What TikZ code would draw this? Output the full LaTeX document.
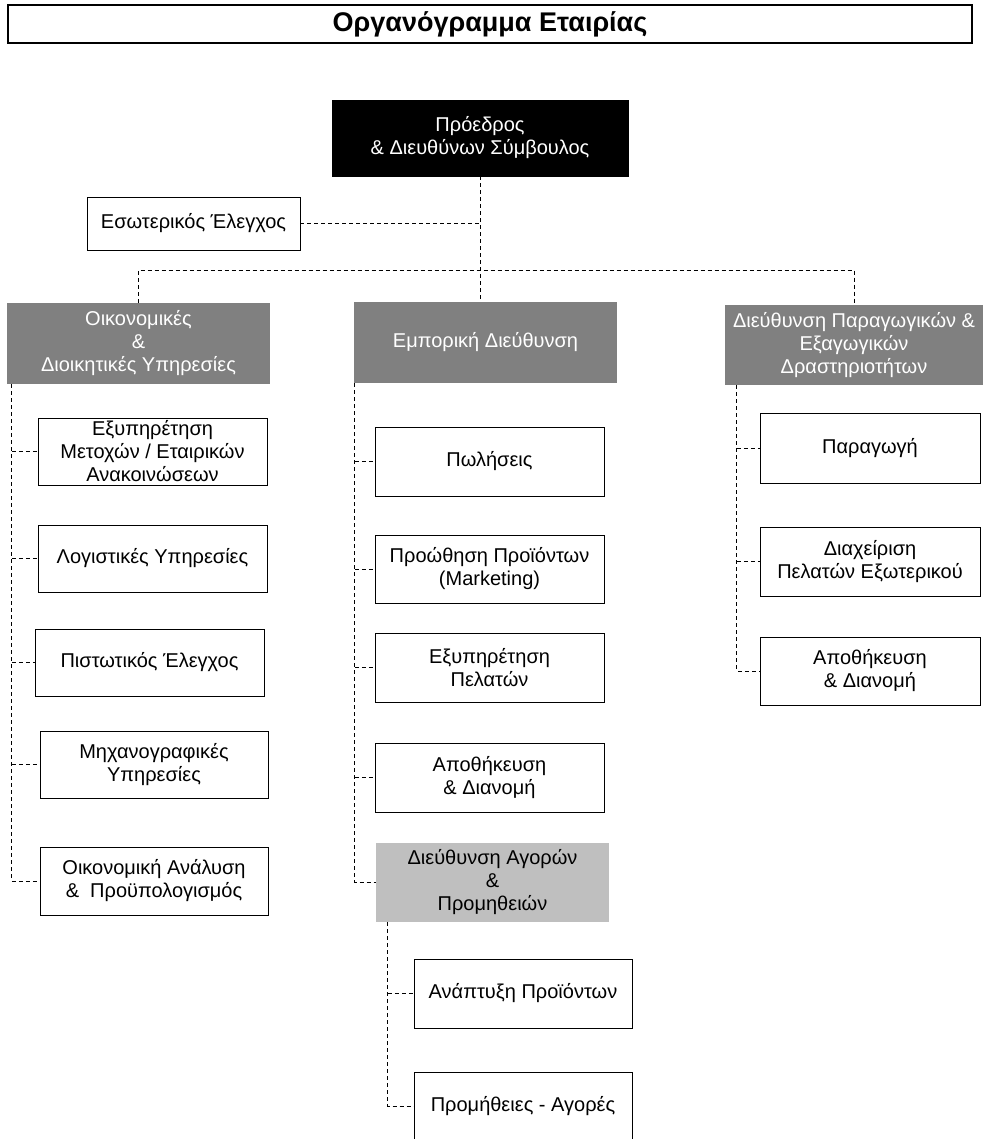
\documentclass[tikz,border=0pt]{standalone}
\usepackage{fontspec}
\setmainfont{Liberation Sans}
\usetikzlibrary{positioning}

\tikzset{
    unit/.style={draw, thin, fill=white, align=center, inner sep=2pt,
        font=\fontsize{20}{23}\selectfont},
    darkunit/.style={unit, draw=none, fill=black!50, text=white},
    lightunit/.style={unit, draw=none, fill=black!25},
    link/.style={draw, line width=0.7pt, dash pattern=on 4pt off 3pt}
}

\begin{document}
\begin{tikzpicture}[x=1pt, y=-1pt]
            \clip (0, 0) rectangle (984, 1139);

            \node[draw, line width=1.2pt, minimum width=964pt, minimum height=38pt,
                font=\fontsize{27}{30}\selectfont\bfseries] (title) at (490, 24) {Οργανόγραμμα Εταιρίας};

            \node[unit, fill=black, text=white, minimum width=296pt, minimum height=76pt] (pres) at (480, 138) {Πρόεδρος\\ \& Διευθύνων Σύμβουλος};
            \node[unit, minimum width=213pt, minimum height=53pt] (audit) at (193.5, 223.5) {Εσωτερικός Έλεγχος};

            \node[darkunit, minimum width=263pt, minimum height=81pt] (fin) at (138.5, 343.5) {Οικονομικές\\ \&\\ Διοικητικές Υπηρεσίες};
            \node[darkunit, minimum width=263pt, minimum height=81pt] (com) at (485.5, 342.5) {Εμπορική Διεύθυνση};
            \node[darkunit, minimum width=258pt, minimum height=80pt] (prod) at (854, 345) {Διεύθυνση Παραγωγικών \&\\ Εξαγωγικών\\ Δραστηριοτήτων};

            \node[unit, minimum width=229pt, minimum height=67pt] (fin1) at (152.5, 451.5) {Εξυπηρέτηση\\ Μετοχών / Εταιρικών\\ Ανακοινώσεων};
            \node[unit, minimum width=229pt, minimum height=67pt] (fin2) at (152.5, 558.5) {Λογιστικές Υπηρεσίες};
            \node[unit, minimum width=229pt, minimum height=67pt] (fin3) at (149.5, 662.5) {Πιστωτικός Έλεγχος};
            \node[unit, minimum width=228pt, minimum height=67pt] (fin4) at (154, 764.5) {Μηχανογραφικές\\ Υπηρεσίες};
            \node[unit, minimum width=228pt, minimum height=68pt] (fin5) at (154, 881) {Οικονομική Ανάλυση\\ \&\ \ Προϋπολογισμός};

            \node[unit, minimum width=229pt, minimum height=69pt] (com1) at (489.5, 461.5) {Πωλήσεις};
            \node[unit, minimum width=229pt, minimum height=68pt] (com2) at (489.5, 569) {Προώθηση Προϊόντων\\ (Marketing)};
            \node[unit, minimum width=229pt, minimum height=69pt] (com3) at (489.5, 667.5) {Εξυπηρέτηση\\ Πελατών};
            \node[unit, minimum width=229pt, minimum height=69pt] (com4) at (489.5, 777.5) {Αποθήκευση\\ \& Διανομή};
            \node[lightunit, minimum width=233pt, minimum height=79pt] (buy) at (492.5, 882.5) {Διεύθυνση Αγορών\\ \&\\ Προμηθειών};
            \node[unit, minimum width=218pt, minimum height=69pt] (buy1) at (523, 993.5) {Ανάπτυξη Προϊόντων};
            \node[unit, minimum width=218pt, minimum height=69pt] (buy2) at (523, 1106.5) {Προμήθειες - Αγορές};

            \node[unit, minimum width=220pt, minimum height=70pt] (prod1) at (870, 448) {Παραγωγή};
            \node[unit, minimum width=220pt, minimum height=69pt] (prod2) at (870, 561.5) {Διαχείριση\\ Πελατών Εξωτερικού};
            \node[unit, minimum width=220pt, minimum height=68pt] (prod3) at (870, 671) {Αποθήκευση\\ \& Διανομή};

            \coordinate (bus) at (0, 270);
            \draw[link] (pres.south) -- (pres.south |- com.north);
            \draw[link] (audit.east) -- (audit.east -| pres.south);
            \draw[link] (fin.north) |- (bus -| prod.north) -- (prod.north);

            \coordinate (finspine) at ([xshift=5pt]fin.south west);
            \coordinate (comspine) at ([xshift=1pt]com.south west);
            \coordinate (buyspine) at ([xshift=12pt]buy.south west);
            \coordinate (prodspine) at ([xshift=12pt]prod.south west);

            \draw[link] (finspine) |- (fin5.west);
            \foreach \n in {fin1, fin2, fin3, fin4}
                \draw[link] (finspine |- \n.west) -- (\n.west);
            \draw[link] (comspine) |- (buy.west);
            \foreach \n in {com1, com2, com3, com4}
                \draw[link] (comspine |- \n.west) -- (\n.west);
            \draw[link] (buyspine) |- (buy2.west);
            \draw[link] (buyspine |- buy1.west) -- (buy1.west);
            \draw[link] (prodspine) |- (prod3.west);
            \foreach \n in {prod1, prod2}
                \draw[link] (prodspine |- \n.west) -- (\n.west);
        \end{tikzpicture}
\end{document}
